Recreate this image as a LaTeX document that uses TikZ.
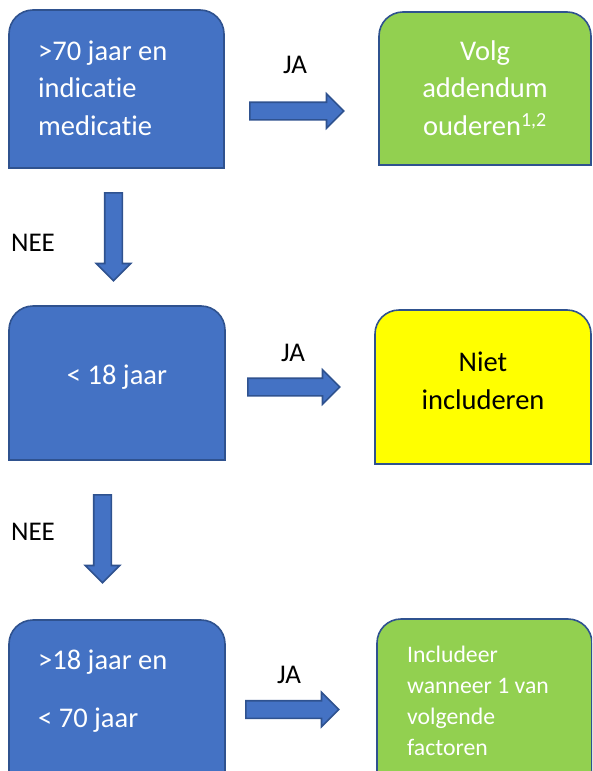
\documentclass[tikz,border=0pt]{standalone}
\usepackage{fontspec}
\setmainfont{Carlito}[Ligatures=CommonOff]
\usetikzlibrary{shapes.arrows}

\definecolor{vakblauw}{HTML}{4472C4}
\definecolor{randblauw}{HTML}{2F528F}
\definecolor{vakgroen}{HTML}{92D050}
\definecolor{vakgeel}{HTML}{FFFF00}

% box outline with rounded top corners only
\newcommand{\bovenrond}[2]{%
  \filldraw[draw=randblauw, line width=1.6pt, fill=#2]
    (#1.south west) -- ([yshift=-24pt]#1.north west)
    arc[start angle=180, end angle=90, radius=24pt]
    -- ([xshift=-24pt]#1.north east)
    arc[start angle=90, end angle=0, radius=24pt]
    -- (#1.south east) -- cycle;}

\begin{document}
\begin{tikzpicture}[
  x=1pt, y=-1pt,
  font=\fontsize{28.5}{37.5}\selectfont,
  bx/.style  ={inner sep=0pt, outer sep=0pt},
  txt/.style ={text=white, align=left, inner sep=0pt},
  lbl/.style ={font=\fontsize{27}{32}\selectfont, inner sep=0pt},
  blk/.style ={single arrow, draw=randblauw, fill=vakblauw, line width=1.6pt,
               inner sep=8pt, minimum width=0pt, single arrow head extend=8.5pt},
]
\useasboundingbox (0,0) rectangle (592,771);
\clip (0,0) rectangle (592,771);

% =========================== BOXES ==================================
\node[bx, minimum width=215pt, minimum height=158pt] (q1) at (116.5, 89)  {};
\node[bx, minimum width=212pt, minimum height=153pt] (a1) at (485, 88.5)  {};
\node[bx, minimum width=216pt, minimum height=154pt] (q2) at (117, 383)   {};
\node[bx, minimum width=216pt, minimum height=154pt] (a2) at (483, 387)   {};
\node[bx, minimum width=216pt, minimum height=180pt] (q3) at (117, 710)   {};
\node[bx, minimum width=215pt, minimum height=181pt] (a3) at (484.5, 709.5) {};

\bovenrond{q1}{vakblauw}
\bovenrond{a1}{vakgroen}
\bovenrond{q2}{vakblauw}
\bovenrond{a2}{vakgeel}
\bovenrond{q3}{vakblauw}
\bovenrond{a3}{vakgroen}

% =========================== TEXTS ==================================
\node[txt, anchor=west] (t1) at (38, 88) {>70 jaar en\\indicatie\\medicatie};
\node[txt, align=center] (u1) at (485, 88) {Volg\\addendum\\ouderen\textsuperscript{1,2}};
\node[txt, align=center] (t2) at (117, 377) {< 18 jaar};
\node[txt, align=center, text=black] (u2) at (483, 381) {Niet\\includeren};
\node[txt, anchor=west] (t3) at (38, 691) {>18 jaar en\\[20.5pt]< 70 jaar};
\node[txt, anchor=west, font=\fontsize{23.7}{31}\selectfont] (u3) at (407, 701)
  {Includeer\\wanneer 1 van\\volgende\\factoren};

% ======================= BLOCK ARROWS ===============================
\node[blk, anchor=tail, minimum height=94pt] (r1) at (249, 111)   {};
\node[blk, anchor=tail, minimum height=92pt] (r2) at (247, 387)   {};
\node[blk, anchor=tail, minimum height=93pt] (r3) at (245, 709.5) {};
\node[blk, anchor=tail, minimum height=88pt, shape border rotate=270] (d1) at (113.5, 192) {};
\node[blk, anchor=tail, minimum height=88pt, shape border rotate=270] (d2) at (102.5, 494) {};

% =========================== LABELS =================================
\node[lbl] (ja1)  at (295, 65)  {JA};
\node[lbl] (ja2)  at (293, 353) {JA};
\node[lbl] (ja3)  at (289, 675) {JA};
\node[lbl] (nee1) at (33, 243)  {NEE};
\node[lbl] (nee2) at (33, 532)  {NEE};

\end{tikzpicture}
\end{document}
